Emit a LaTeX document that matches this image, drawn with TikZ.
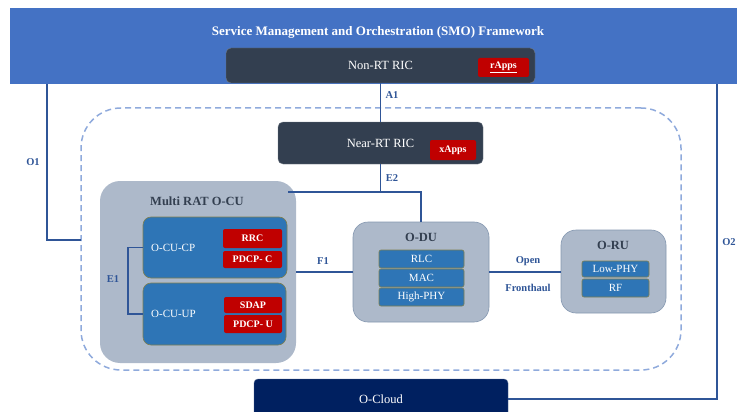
\documentclass[tikz,border=0pt]{standalone}
\usepackage{fontspec}
\setmainfont{Liberation Serif}
\usetikzlibrary{calc}
\definecolor{smoblue}{HTML}{4472C4}
\definecolor{ricgray}{HTML}{333F50}
\definecolor{appred}{HTML}{C00000}
\definecolor{fnblue}{HTML}{2E75B6}
\definecolor{cugray}{HTML}{ADB9CA}
\definecolor{unitedge}{HTML}{8497B0}
\definecolor{linkblue}{HTML}{2F5597}
\definecolor{dashblue}{HTML}{8FAADC}
\definecolor{cloudnavy}{HTML}{002060}
\definecolor{cuedge}{HTML}{7F7F4F}

\begin{document}
\begin{tikzpicture}[x=1pt, y=-1pt,
	box/.style={anchor=north west, inner sep=0pt, outer sep=0pt},
	ric/.style={box, fill=ricgray, draw=ricgray!70!white, rounded corners=5pt, text=white, font=\fontsize{12.5}{14}\selectfont},
	app/.style={box, fill=appred, rounded corners=2pt, text=white, font=\fontsize{10}{12}\selectfont\bfseries},
	fn/.style={box, fill=fnblue, draw=cuedge, line width=0.6pt, rounded corners=2pt, text=white, font=\fontsize{11}{13}\selectfont},
	unit/.style={box, fill=cugray, draw=unitedge, line width=0.6pt, rounded corners=15pt},
	cu/.style={box, fill=fnblue, draw=cuedge, line width=0.6pt, rounded corners=8pt},
	title/.style={text=ricgray, font=\fontsize{12.5}{14}\selectfont\bfseries},
	link/.style={draw=linkblue, line width=1.5pt},
	lbl/.style={text=linkblue, font=\fontsize{10.5}{12}\selectfont\bfseries}]
		%%%%% START %%%%%
		\useasboundingbox (0,0) rectangle (737,412);
		
		\node[box, fill=smoblue, minimum width=727pt, minimum height=76pt] (smo) at (10,8) {};
		\node[text=white, font=\fontsize{13}{15}\selectfont\bfseries] (smotitle) at (378,32) {Service Management and Orchestration (SMO) Framework};
		\node[ric, minimum width=309pt, minimum height=35pt] (nonrt) at (226,48) {Non-RT RIC};
		\node[app, minimum width=51pt, minimum height=19pt] (rapps) at (478,58) {\underline{rApps}};
		
		\node[box, draw=dashblue, dash pattern=on 6pt off 4pt, line width=1.5pt, rounded corners=40pt, minimum width=600pt, minimum height=262pt] (ran) at (81,108) {};
		
		\node[ric, minimum width=205pt, minimum height=42pt] (nearrt) at (278,122) {Near-RT RIC};
		\node[app, minimum width=46pt, minimum height=20pt] (xapps) at (430,140) {xApps};
		
		% O-CU
		\node[unit, draw=none, rounded corners=20pt, minimum width=196pt, minimum height=182pt] (ocu) at (100,181) {};
		\node[title] (ocutitle) at (197,201) {Multi RAT O-CU};
		\node[cu, minimum width=144pt, minimum height=61pt] (cucp) at (143,217) {};
		\node[anchor=west, inner sep=0pt, text=white, font=\fontsize{11}{13}\selectfont] (cucptext) at (151,248) {O-CU-CP};
		\node[app, minimum width=59pt, minimum height=19pt] (rrc) at (223,229) {RRC};
		\node[app, minimum width=59pt, minimum height=17pt] (pdcpc) at (223,251) {PDCP- C};
		\node[cu, minimum width=143pt, minimum height=62pt] (cuup) at (143,283) {};
		\node[anchor=west, inner sep=0pt, text=white, font=\fontsize{11}{13}\selectfont] (cuuptext) at (151,314) {O-CU-UP};
		\node[app, minimum width=58pt, minimum height=16pt] (sdap) at (224,297) {SDAP};
		\node[app, minimum width=58pt, minimum height=18pt] (pdcpu) at (224,315) {PDCP- U};
		
		% O-DU
		\node[unit, minimum width=136pt, minimum height=100pt] (odu) at (353,222) {};
		\node[title] (odutitle) at (421,237) {O-DU};
		\node[fn, minimum width=85pt, minimum height=18pt] (rlc) at (379,250) {RLC};
		\node[fn, minimum width=85pt, minimum height=18pt] (mac) at (379,269) {MAC};
		\node[fn, minimum width=85pt, minimum height=18pt] (hiphy) at (379,288) {High-PHY};
		
		% O-RU
		\node[unit, minimum width=105pt, minimum height=83pt] (oru) at (561,230) {};
		\node[title] (orutitle) at (613,245) {O-RU};
		\node[fn, minimum width=67pt, minimum height=16pt] (lophy) at (582,261) {Low-PHY};
		\node[fn, minimum width=67pt, minimum height=18pt] (rf) at (582,279) {RF};
		
		\node[box, fill=cloudnavy, draw=cloudnavy!70!white, rounded corners=4pt, minimum width=254pt, minimum height=40pt, text=white, font=\fontsize{12.5}{14}\selectfont] (ocloud) at (254,379) {O-Cloud};
		
		% interfaces
		\coordinate (o1end) at (81,240);
		\coordinate (e2j) at ($(ocu.north east)+(-8,11)$);
		\draw[link] (nonrt.south) -- (nearrt.north);
		\draw[link] ($(smo.south west)+(37,0)$) |- (o1end);
		\draw[link] (ocloud.east) -| ($(smo.south east)+(-20,0)$);
		\draw[link] (nearrt.south) -- (nearrt.south |- e2j);
		\draw[link] (e2j) -| (odu.north);
		\draw[link] (odu.west) -- (odu.west -| ocu.east);
		\draw[link] (odu.east) -- (odu.east -| oru.west);
		\draw[link] (cucp.west) -- ++(-15,0) |- (cuup.west);
		
		\node[lbl] (a1) at (392,95) {A1};
		\node[lbl] (e2) at (392,178) {E2};
		\node[lbl] (o1) at (33,162) {O1};
		\node[lbl] (o2) at (729,242) {O2};
		\node[lbl] (e1) at (113,279) {E1};
		\node[lbl] (f1) at (323,261) {F1};
		\node[lbl] (open) at (528,261) {Open};
		\node[lbl] (fronthaul) at (528,288) {Fronthaul};
		%%%%% END %%%%%
\end{tikzpicture}
\end{document}
